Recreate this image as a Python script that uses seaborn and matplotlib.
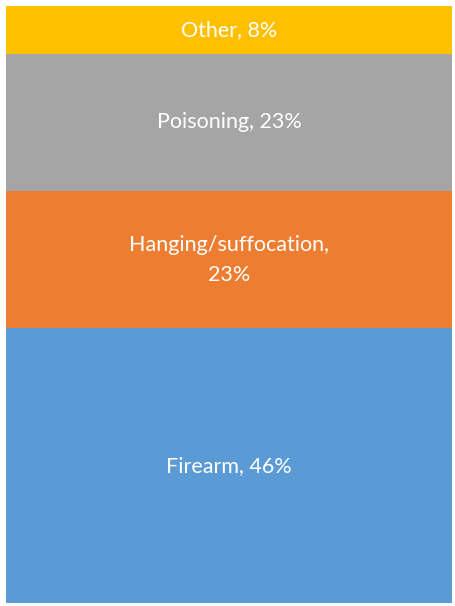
import matplotlib
matplotlib.use("Agg")
import matplotlib.pyplot as plt
import seaborn as sns
import pandas as pd

categories = ["Firearm", "Hanging/suffocation", "Poisoning", "Other"]
values = [46, 23, 23, 8]
labels = ["Firearm, 46%", "Hanging/suffocation,\n23%", "Poisoning, 23%", "Other, 8%"]
colors = ["#5B9BD5", "#ED7D31", "#A5A5A5", "#FFC000"]

sns.set_style("white")
plt.rcParams['font.family'] = ['Lato', 'DejaVu Sans']

fig = plt.figure(figsize=(4.55, 6.06), dpi=100)
ax = fig.add_axes([6/455, 3/606, 446/455, 597/606])

bottom = 0
for cat, val, lab, col in zip(categories, values, labels, colors):
    df = pd.DataFrame({"x": ["all"], "v": [val]})
    sns.barplot(data=df, x="x", y="v", color=col, width=1.0, bottom=bottom,
                ax=ax, saturation=1, linewidth=0)
    ax.text(0, bottom + val / 2, lab, ha="center", va="center", color="white",
            fontsize=15.5, linespacing=1.6)
    bottom += val

ax.set_xlim(-0.5, 0.5)
ax.set_ylim(0, sum(values))
ax.axis("off")
fig.savefig("out.png", dpi=100)
